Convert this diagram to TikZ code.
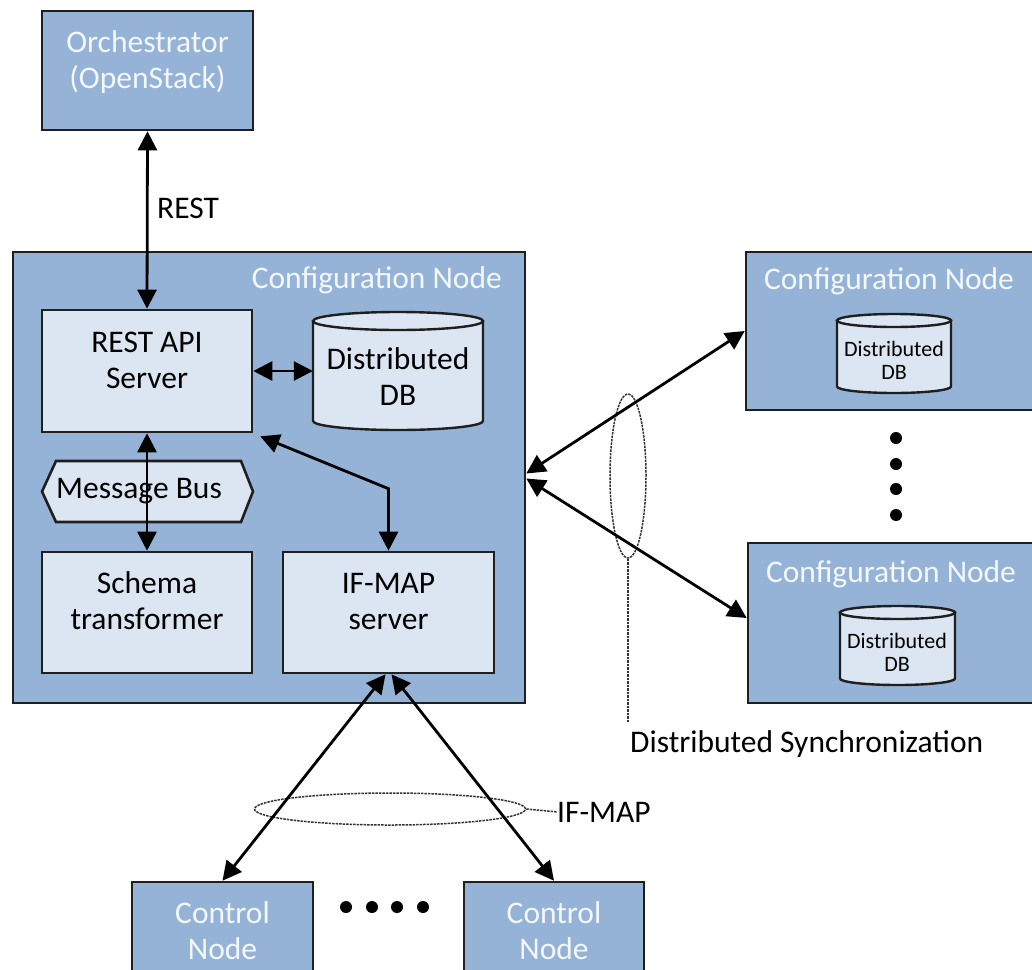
\documentclass[tikz,border=0pt]{standalone}
\usepackage{fontspec}
\setmainfont{Carlito}
\usetikzlibrary{arrows.meta,shapes.geometric,calc}
\definecolor{nodeblue}{HTML}{95B3D7}
\definecolor{paneblue}{HTML}{DCE6F2}
\definecolor{labelwhite}{HTML}{F4F7FB}
\definecolor{edge}{HTML}{1F1F1F}
\newcommand\bigfont{\fontsize{31.5}{36}\selectfont}
\newcommand\smallfont{\fontsize{22}{23}\selectfont}
% database cylinder: left x, right x, top rim y, bottom rim y, rim radius
\newcommand\dbcyl[5]{%
  \pgfmathsetmacro\cylcx{(#1+#2)/2}%
  \pgfmathsetmacro\cylrx{(#2-#1)/2}%
  \filldraw[fill=paneblue, draw=edge, line width=2.4pt] (#1,#3) -- (#1,#4)
    .. controls (#1,{#4+0.552*#5}) and ({\cylcx-0.552*\cylrx},{#4+#5}) .. (\cylcx,{#4+#5})
    .. controls ({\cylcx+0.552*\cylrx},{#4+#5}) and (#2,{#4+0.552*#5}) .. (#2,#4)
    -- (#2,#3) -- cycle;
  \filldraw[fill=paneblue, draw=edge, line width=2.4pt] (\cylcx,#3) ellipse [x radius=\cylrx, y radius=#5];
}
\begin{document}
\begin{tikzpicture}[x=1pt,y=-1pt,
  outerbox/.style={draw=edge, line width=2.6pt, fill=nodeblue, inner sep=0},
  innerbox/.style={draw=edge, line width=2.6pt, fill=paneblue, inner sep=0},
  whitetxt/.style={font=\bigfont, text=labelwhite, inner sep=0, align=center},
  darktxt/.style={font=\bigfont, text=black, inner sep=0, align=center},
  smalltxt/.style={font=\smallfont, text=black, inner sep=0, align=center},
  arr/.style={line width=2.8pt, draw=black,
    {Triangle[length=19pt,width=19pt]}-{Triangle[length=19pt,width=19pt]}},
  ring/.style={draw=black!80, line width=1.5pt, dash pattern=on 2.5pt off 1pt,
    ellipse, inner sep=0},
  ringline/.style={draw=black!80, line width=1.5pt, dash pattern=on 2.5pt off 1pt},
]
\useasboundingbox (0,0) rectangle (1032,969);
\clip (0,0) rectangle (1032,969);

% orchestrator and the local configuration node
\node[outerbox, minimum width=211pt, minimum height=119pt] (orch) at (147.5,70.5) {};
\node[outerbox, minimum width=512pt, minimum height=451pt] (conf) at (269,477.5) {};
\node[innerbox, minimum width=210pt, minimum height=122pt] (rest) at (147,371) {};
\node[innerbox, minimum width=210pt, minimum height=121pt] (schema) at (147,612.5) {};
\node[innerbox, minimum width=211pt, minimum height=121pt] (ifmap) at (388.5,612.5) {};
\node[inner sep=0, minimum width=170pt, minimum height=118pt] (db) at (398,371) {};
\dbcyl{313}{483}{321}{421}{9}

% message bus
\filldraw[fill=paneblue, draw=edge, line width=2.6pt]
  (42,491.5) -- (56,461) -- (241,461) -- (253,491.5) -- (241,522) -- (56,522) -- cycle;

% peer configuration nodes
\node[outerbox, minimum width=299pt, minimum height=158pt] (confA) at (895.5,331) {};
\node[outerbox, minimum width=297pt, minimum height=160pt] (confB) at (896.5,623) {};
\dbcyl{837}{951}{320.5}{386.5}{6.5}
\dbcyl{840}{955}{612.5}{678.5}{6.5}

% control nodes
\node[outerbox, minimum width=181pt, minimum height=108pt] (ctlA) at (222.5,936) {};
\node[outerbox, minimum width=180pt, minimum height=108pt] (ctlB) at (554,936) {};

% ellipsis dots
\foreach \y in {438,464,489,515} \fill (896,\y) circle [radius=6];
\foreach \x in {346,372,397,423} \fill (\x,907) circle [radius=6];

% grouping rings
\node[ring, minimum width=36pt, minimum height=164pt] (syncring) at (628,476) {};
\node[ring, minimum width=271pt, minimum height=32pt] (ifmring) at (390,809) {};

% texts
\node[whitetxt] (orchT) at (147.5,62.8) {\strut Orchestrator\\\strut (OpenStack)};
\node[darktxt, anchor=base west] (restL) at (157,218) {REST};
\node[whitetxt, anchor=base east] (confT) at (502,288) {Configuration Node};
\node[darktxt] (restT) at (147,362.8) {\strut REST API\\\strut Server};
\node[darktxt] (dbT) at (398,379.8) {\strut Distributed\\\strut DB};
\node[darktxt, anchor=base] (bus) at (139,498) {Message Bus};
\node[darktxt] (schemaT) at (147,604.3) {\strut Schema\\\strut transformer};
\node[darktxt] (ifmapT) at (388.5,604.3) {\strut IF-MAP\\\strut server};
\node[whitetxt, anchor=base] (confAT) at (889,289) {Configuration Node};
\node[whitetxt, anchor=base] (confBT) at (891,582) {Configuration Node};
\node[smalltxt] (dbAT) at (894,362.9) {\strut Distributed\\\strut DB};
\node[smalltxt] (dbBT) at (897,655.4) {\strut Distributed\\\strut DB};
\node[darktxt, anchor=base west] (syncL) at (630,752) {Distributed Synchronization};
\node[darktxt, anchor=base west] (ifmapL) at (557,822) {IF-MAP};
\node[whitetxt] (ctlAT) at (222.5,934.3) {\strut Control\\\strut Node};
\node[whitetxt] (ctlBT) at (554,934.3) {\strut Control\\\strut Node};

% ring leaders
\draw[ringline] (syncring.south) -- ++(0,164);
\draw[ringline] (ifmring.east) -- (ifmapL.west);

% connectors
\draw[arr] (orch.south) -- (rest.north);
\draw[arr] (rest.east) -- (db.west);
\draw[arr] (rest.south) -- (schema.north);
\draw[arr] ($(rest.south east)+(7,3)$) -- ($(ifmap.north)+(0,-62)$) -- (ifmap.north);
\draw[arr] ([yshift=4pt]conf.east) -- (confA.west);
\draw[arr] ([yshift=-1pt]conf.east) -- ([yshift=5pt]confB.west);
\draw[arr] ([xshift=-3pt]ifmap.south) -- (ctlA.north);
\draw[arr] ([xshift=3pt]ifmap.south) -- (ctlB.north);
\end{tikzpicture}
\end{document}
